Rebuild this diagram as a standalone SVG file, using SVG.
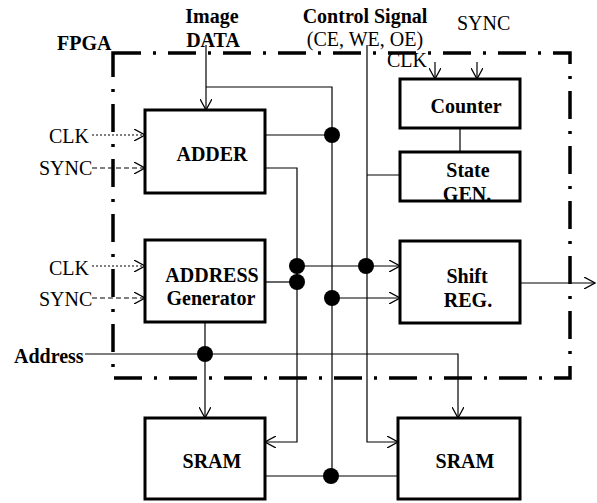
<svg xmlns="http://www.w3.org/2000/svg" width="597" height="503" viewBox="0 0 597 503">
<style>
text{font-family:"Liberation Serif","Times New Roman",serif;font-size:20px;fill:#000}
.b{font-weight:bold}
.m{text-anchor:middle}
.box{fill:#fff;stroke:#000;stroke-width:3}
.w{fill:none;stroke:#000;stroke-width:1.2}
.dot{fill:#000}
.frame{fill:none;stroke:#000;stroke-width:3.5;stroke-dasharray:28 12 3 12}
</style>
<defs>
<marker id="a" viewBox="0 0 12 12" refX="11" refY="6" markerWidth="12" markerHeight="12" markerUnits="userSpaceOnUse" orient="auto">
<path d="M0,0 L11,6 L0,12" fill="none" stroke="#000" stroke-width="1.3"/>
</marker>
</defs>
<rect id="fpga" class="frame" x="113" y="53" width="457" height="325"/>
<text class="b" x="57" y="50">FPGA</text>
<text class="b m" x="212" y="23">Image</text>
<text class="b m" x="213" y="47">DATA</text>
<text class="b m" x="365" y="23">Control Signal</text>
<text class="m" x="365" y="46">(CE, WE, OE)</text>
<text x="457" y="30">SYNC</text>
<text x="387" y="67">CLK</text>
<text x="49" y="143">CLK</text>
<text x="39" y="175">SYNC</text>
<text x="49" y="275">CLK</text>
<text x="39" y="306">SYNC</text>
<text class="b" x="14" y="363">Address</text>
<g id="connectors">
<path class="w" d="M206,45 V110" marker-end="url(#a)"/>
<path class="w" d="M206,87 H332 V476"/>
<path class="w" d="M265,135 H332"/>
<path class="w" d="M265,168 H297 V442 H265" marker-end="url(#a)"/>
<path class="w" d="M367,45 V442 H398" marker-end="url(#a)"/>
<path class="w" d="M367,175 H400"/>
<path class="w" d="M460,128 V152"/>
<path class="w" d="M297,266 H400" marker-end="url(#a)"/>
<path class="w" d="M265,282 H297"/>
<path class="w" d="M332,298 H400" marker-end="url(#a)"/>
<path class="w" d="M520,283 H595" marker-end="url(#a)"/>
<path class="w" d="M205,322 V418" marker-end="url(#a)"/>
<path class="w" d="M85,354 H458 V418" marker-end="url(#a)"/>
<path class="w" d="M265,476 H398"/>
<path class="w" d="M435,62 V79" marker-end="url(#a)"/>
<path class="w" d="M477,62 V79" marker-end="url(#a)"/>
<path class="w" d="M92,135 H145" stroke-dasharray="2 2" marker-end="url(#a)"/>
<path class="w" d="M92,168 H145" stroke-dasharray="5 3" marker-end="url(#a)"/>
<path class="w" d="M92,266 H145" stroke-dasharray="2 2" marker-end="url(#a)"/>
<path class="w" d="M92,298 H145" stroke-dasharray="5 3" marker-end="url(#a)"/>
<circle class="dot" cx="332" cy="135" r="8"/>
<circle class="dot" cx="297" cy="266" r="8"/>
<circle class="dot" cx="297" cy="282" r="8"/>
<circle class="dot" cx="366" cy="266" r="8"/>
<circle class="dot" cx="332" cy="298" r="8"/>
<circle class="dot" cx="205" cy="354" r="8"/>
<circle class="dot" cx="331" cy="476" r="8"/>
</g>
<g id="adder"><rect class="box" x="145" y="110" width="120" height="83"/><text class="b m" x="212" y="161">ADDER</text></g>
<g id="addrgen"><rect class="box" x="145" y="240" width="120" height="82"/><text class="b m" x="212" y="282">ADDRESS</text><text class="b m" x="211" y="305">Generator</text></g>
<g id="counter"><rect class="box" x="400" y="79" width="120" height="49"/><text class="b m" x="466" y="113">Counter</text></g>
<g id="stategen"><rect class="box" x="400" y="152" width="120" height="49"/><text class="b m" x="468" y="177">State</text><text class="b m" x="467" y="201">GEN.</text></g>
<g id="shiftreg"><rect class="box" x="400" y="241" width="120" height="82"/><text class="b m" x="467" y="283">Shift</text><text class="b m" x="468" y="307">REG.</text></g>
<g id="sram1"><rect class="box" x="145" y="418" width="120" height="81"/><text class="b m" x="212" y="468">SRAM</text></g>
<g id="sram2"><rect class="box" x="398" y="418" width="122" height="81"/><text class="b m" x="465" y="468">SRAM</text></g>
</svg>
